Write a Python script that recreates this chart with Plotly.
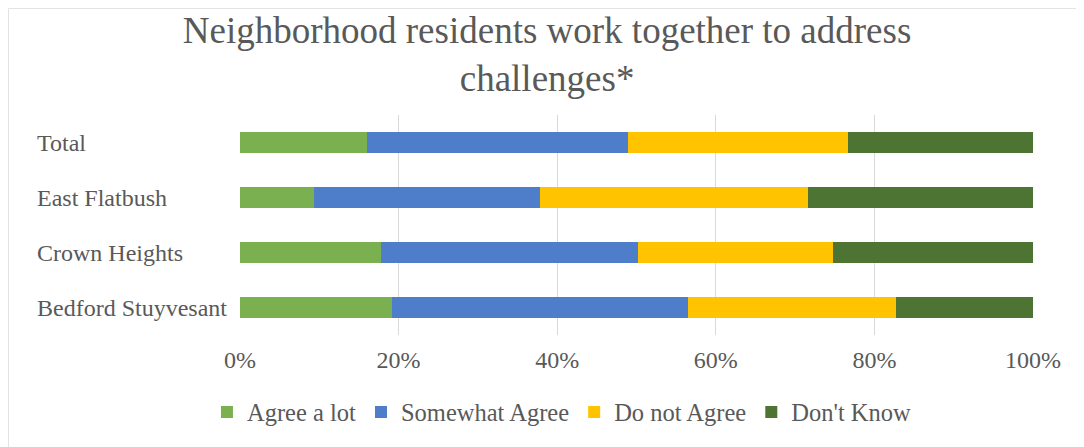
import plotly.graph_objects as go

categories = ["Total", "East Flatbush", "Crown Heights", "Bedford Stuyvesant"]
series_names = ["Agree a lot", "Somewhat Agree", "Do not Agree", "Don't Know"]
agree_a_lot = [16.0, 9.3, 17.8, 19.2]
somewhat_agree = [32.9, 28.5, 32.4, 37.3]
do_not_agree = [27.8, 33.8, 24.6, 26.2]
dont_know = [23.3, 28.4, 25.2, 17.3]
tick_vals = [0, 20, 40, 60, 80, 100]
tick_labels = ["0%", "20%", "40%", "60%", "80%", "100%"]
colors = ["#7ab04f", "#4e7dc9", "#ffc300", "#4e7434"]

FONT = "Liberation Serif"
TXT = "#595959"

fig = go.Figure()
for name, vals, col in zip(series_names, [agree_a_lot, somewhat_agree, do_not_agree, dont_know], colors):
    fig.add_trace(go.Bar(
        y=categories, x=vals, name=name, orientation="h",
        marker=dict(color=col, line=dict(width=0)),
    ))

for cat in categories:
    fig.add_annotation(
        x=-0.2585, xref="paper", y=cat, yref="y", text=cat, showarrow=False,
        xanchor="left", yanchor="middle", font=dict(family=FONT, size=24, color=TXT),
    )

fig.add_shape(type="rect", xref="paper", yref="paper", x0=-0.2919, x1=1.2, y0=-1.0, y1=1.484,
              line=dict(color="#e3e3e3", width=1), fillcolor="rgba(0,0,0,0)", layer="below")

fig.update_layout(
    barmode="stack",
    bargap=0.62,
    width=1076, height=439,
    margin=dict(l=232, r=51, t=107, b=112),
    paper_bgcolor="white", plot_bgcolor="white",
    title=dict(
        text="Neighborhood residents work together to address<br>challenges*",
        x=0.501, xanchor="center", xref="container",
        y=0.92, yanchor="middle", yref="container",
        font=dict(family=FONT, size=37, color=TXT),
    ),
    font=dict(family=FONT, size=24, color=TXT),
    legend=dict(
        orientation="h", x=0.406, xanchor="center", y=-0.35, yanchor="middle",
        font=dict(family=FONT, size=24.5, color=TXT), traceorder="normal",
        itemwidth=30,
    ),
    showlegend=True,
)
fig.update_xaxes(
    range=[0, 100], tickvals=tick_vals, ticktext=tick_labels,
    showgrid=True, gridcolor="#d9d9d9", gridwidth=1,
    zeroline=False, showline=False, ticks="", ticklabelstandoff=8,
    tickfont=dict(family=FONT, size=24, color=TXT),
)
fig.update_yaxes(
    autorange="reversed", showticklabels=False, showgrid=False, zeroline=False,
    showline=False, ticks="",
)

fig.write_html("out.html")
